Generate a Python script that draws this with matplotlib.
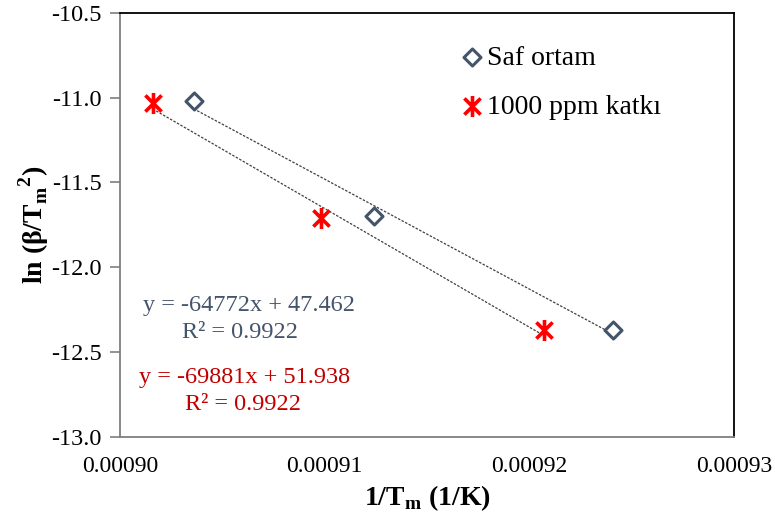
import matplotlib.pyplot as plt
from matplotlib.path import Path
import numpy as np

# data
x_saf = np.array([0.0009036, 0.0009124, 0.0009241])
y_saf = np.array([-11.02, -11.70, -12.37])
x_katki = np.array([0.0009016, 0.0009098, 0.0009207])
y_katki = np.array([-11.03, -11.71, -12.37])

# trendline coefficients as printed on the chart
fit_saf = (-64772, 47.462)
fit_katki = (-69881, 51.938)
r2_saf = 0.9922
r2_katki = 0.9922

labels = ["Saf ortam", "1000 ppm katkı"]
xticks = [0.00090, 0.00091, 0.00092, 0.00093]
yticks = [-13.0, -12.5, -12.0, -11.5, -11.0, -10.5]

blue = "#44546A"
red = "#FF0000"
red_text = "#C00000"

plt.rcParams['font.family'] = ['Liberation Serif', 'DejaVu Serif']

# excel-style star: an X with a vertical bar
star = Path([(-1, -1), (1, 1), (-1, 1), (1, -1), (0, -1.3), (0, 1.3)],
            [Path.MOVETO, Path.LINETO] * 3)

fig = plt.figure(figsize=(7.75, 5.22), dpi=100)
ax = fig.add_axes([0.1548, 0.1628, 0.7923, 0.8128])

# dotted trendlines
for xs, (m, b) in [(x_saf, fit_saf), (x_katki, fit_katki)]:
    xl = np.array([xs.min(), xs.max()])
    ax.plot(xl, m * xl + b, color="#404040", lw=0.9, ls=(0, (2, 1.2)), zorder=1)

ax.scatter(x_saf, y_saf, marker="D", s=75, facecolor="white", edgecolor=blue,
           linewidth=2.2, label=labels[0], zorder=3)
ax.scatter(x_katki, y_katki, marker=star, s=230, color=red,
           linewidth=2.6, label=labels[1], zorder=3)

ax.set_xlim(0.0009, 0.00093)
ax.set_ylim(-13, -10.5)
ax.set_xticks(xticks, [f"{v:.5f}" for v in xticks])
ax.set_yticks(yticks, [f"{v:.1f}" for v in yticks])
ax.tick_params(axis="y", direction="out", length=7, width=1.2, labelsize=17.5,
               color="#7F7F7F", pad=6)
ax.tick_params(axis="x", length=0, labelsize=17, pad=14)
for s in ax.spines.values():
    s.set_linewidth(1.3)
ax.spines["left"].set_color("#7F7F7F")
ax.spines["bottom"].set_color("#7F7F7F")
ax.spines["top"].set_color("black")
ax.spines["right"].set_color("black")

ax.set_xlabel(r"1/T$_\mathregular{m}$ (1/K)", fontsize=20, fontweight="bold", labelpad=4)
ax.set_ylabel(r"ln (β/T$_\mathregular{m}$$^\mathregular{2}$)", fontsize=20,
              fontweight="bold", labelpad=0)

ax.legend(loc="upper left", bbox_to_anchor=(0.53, 0.95), frameon=False,
          fontsize=20, handletextpad=0.0, labelspacing=0.85, handlelength=1.1,
          borderaxespad=0.0)

W, H = 775, 522
def ftext(px, py, s, color):
    fig.text(px / W, 1 - py / H, s, color=color, fontsize=17.5, ha="center", va="center")

ftext(249, 306, f"y = {fit_saf[0]}x + {fit_saf[1]}", blue)
ftext(240, 333, f"R² = {r2_saf}", blue)
ftext(245, 378, f"y = {fit_katki[0]}x + {fit_katki[1]}", red_text)
ftext(243, 404, f"R² = {r2_katki}", red_text)

fig.savefig("out.png", dpi=100)
